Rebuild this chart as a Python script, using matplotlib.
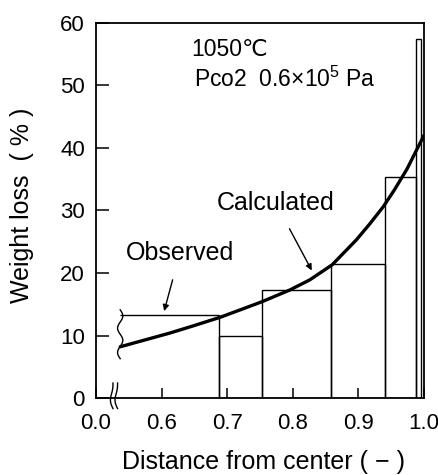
import numpy as np
import matplotlib
matplotlib.use("Agg")
import matplotlib.pyplot as plt

plt.rcParams['font.family'] = ['Liberation Sans', 'DejaVu Sans']
plt.rcParams['mathtext.fontset'] = 'custom'
plt.rcParams['mathtext.rm'] = 'Liberation Sans'

# observed weight loss, stepwise per shell
edges = [0.537, 0.688, 0.753, 0.859, 0.940, 0.988, 0.996]
observed = [13.3, 10.0, 17.3, 21.5, 35.4, 57.4]

# calculated curve
calc_x = [0.537, 0.575, 0.613, 0.650, 0.689, 0.725, 0.753, 0.796, 0.826,
          0.860, 0.897, 0.917, 0.938, 0.955, 0.974, 0.987, 1.0]
calc_y = [8.2, 9.3, 10.4, 11.6, 12.9, 14.3, 15.4, 17.3, 18.9,
          21.3, 25.3, 27.8, 30.6, 33.3, 36.6, 39.3, 42.0]

xticks = [0.5, 0.6, 0.7, 0.8, 0.9, 1.0]
xticklabels = ["0.0", "0.6", "0.7", "0.8", "0.9", "1.0"]
yticks = [0, 10, 20, 30, 40, 50, 60]

fig = plt.figure(figsize=(4.38, 4.75), dpi=100)
ax = fig.add_axes([0.219, 0.162, 0.749, 0.79])

lw_bar = 1.0
# first shell: top + right edge only (left edge is the break mark)
ax.hlines(observed[0], edges[0], edges[1], color='k', lw=lw_bar)
ax.vlines(edges[1], 0, observed[0], color='k', lw=lw_bar)
# remaining shells as open bars
widths = np.diff(edges[1:])
ax.bar(edges[1:-1], observed[1:], width=widths, align='edge', fill=False,
       edgecolor='k', lw=lw_bar)

ax.plot(calc_x, calc_y, color='k', lw=2.4, solid_capstyle='round',
        solid_joinstyle='round')

# wavy break at left of first shell
s = np.linspace(0, 1, 60)
ax.plot(edges[0] - 0.004 * np.sin(2 * np.pi * s * 2), 6.3 + 7.8 * s,
        color='k', lw=1.0)

# axis break marks on x axis
for x0 in [0.052, 0.066]:
    ys = np.linspace(0.04, -0.028, 40)
    t = (ys - ys[0]) / (ys[-1] - ys[0])
    xs = x0 - 0.006 * np.sin(np.pi * t) + 0.003 * np.sin(2 * np.pi * t)
    ax.plot(xs, ys, transform=ax.transAxes, color='k', lw=1.0, clip_on=False)

ax.set_xlim(0.5, 1.0)
ax.set_ylim(0, 60)
ax.set_xticks(xticks)
ax.set_xticklabels(xticklabels)
ax.set_yticks(yticks)
ax.tick_params(axis='both', direction='in', labelsize=16, width=1.1)
ax.tick_params(axis='x', length=7, pad=11)
ax.tick_params(axis='y', length=9, pad=8)
for sp in ax.spines.values():
    sp.set_linewidth(1.3)

fig.text(263 / 438, 1 - 462 / 475, "Distance from center ( − )", fontsize=18,
         ha='center', va='center')
fig.text(22 / 438, 1 - 205 / 475, "Weight loss  ( % )", fontsize=18,
         ha='center', va='center', rotation=90)

ax.text(0.646, 55.7, "1050℃", fontsize=16.5, va='center', ha='left')
ax.text(0.649, 50.9, r"Pco2  0.6×10$^{5}$ Pa", fontsize=16.5, va='center', ha='left')

ax.annotate("Calculated", xy=(0.829, 20.4), xytext=(0.774, 31.2),
            fontsize=18, ha='center', va='center',
            arrowprops=dict(arrowstyle='-|>', color='k', lw=1.0,
                            mutation_scale=9, shrinkA=9, shrinkB=0))
ax.annotate("Observed", xy=(0.604, 13.9), xytext=(0.628, 23.2),
            fontsize=18, ha='center', va='center',
            arrowprops=dict(arrowstyle='-|>', color='k', lw=1.0,
                            mutation_scale=9, shrinkA=9, shrinkB=0))

fig.savefig("out.png", dpi=100)
